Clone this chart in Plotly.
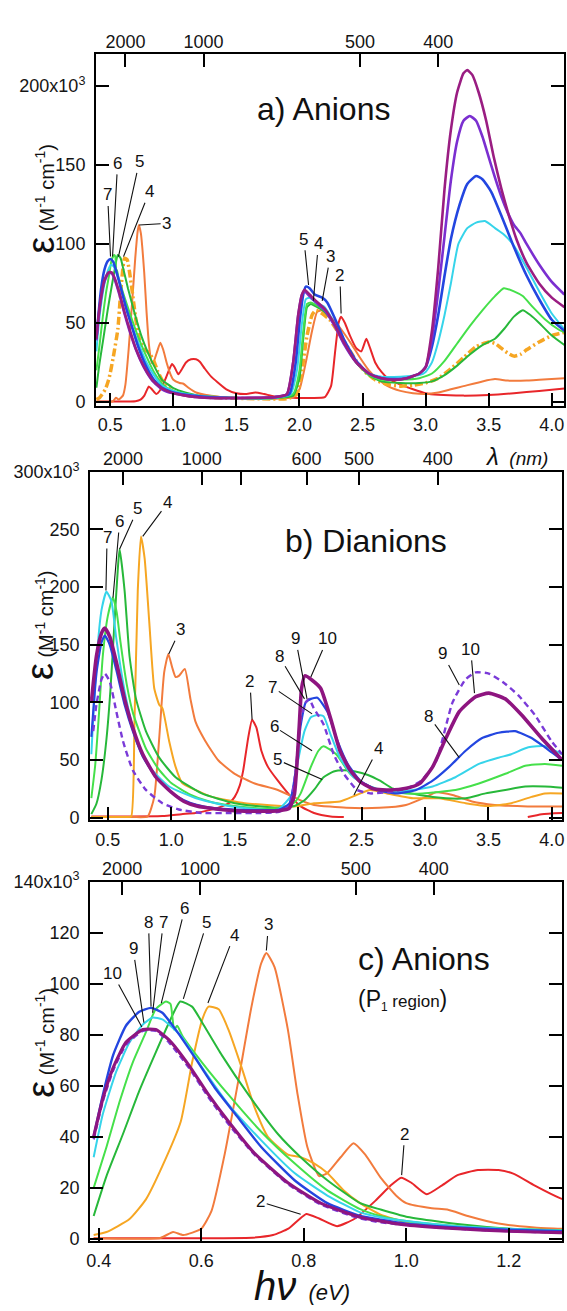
import plotly.graph_objects as go

W, H = 567, 1311
FONT = "Liberation Sans, Arial, Helvetica, sans-serif"

# ---------------- colours per chain length ----------------
C2, C3, C4 = "#e8262a", "#f27b3d", "#f6a623"
C5, C6, C7 = "#27b83a", "#45e04a", "#36d4ea"
C8, C9, C10 = "#2346e0", "#7b2fd0", "#9a1d82"

# ---------------- anion spectra (eV, eps in 10^3 M^-1 cm^-1) ----------------
A2_E = [0.39, 0.55, 0.70, 0.74, 0.77, 0.79, 0.805, 0.83, 0.865, 0.90, 0.94, 0.97, 0.99, 1.01, 1.04, 1.07, 1.10,
        1.14, 1.18, 1.21, 1.25, 1.30, 1.35, 1.42, 1.50, 1.58, 1.65, 1.72, 1.80, 1.90, 2.00, 2.10, 2.20, 2.25,
        2.28, 2.31, 2.33, 2.36, 2.40, 2.45, 2.49, 2.53, 2.56, 2.60, 2.65, 2.70, 2.80, 2.90, 3.00, 3.10, 3.30,
        3.50, 3.70, 3.90, 4.10]
A2_Y = [0.3, 0.3, 0.5, 1.5, 4, 7.5, 9.8, 8, 5, 8, 15, 21, 24, 22, 17.5, 21, 25,
        27, 27, 25.5, 21, 16, 12.5, 8, 5.5, 5, 6, 5, 3.5, 3, 2.5, 2.5, 3, 10,
        30, 50, 54, 50, 42, 34, 32, 40, 34, 25, 19, 15, 11, 8, 5.5, 4.5, 4,
        4.4, 5.5, 7, 8.5]

A3_E = [0.39, 0.52, 0.545, 0.565, 0.60, 0.62, 0.646, 0.672, 0.698, 0.717, 0.727, 0.743, 0.769, 0.788, 0.807,
        0.83, 0.846, 0.872, 0.897, 0.92, 0.95, 0.98, 1.00, 1.05, 1.08, 1.12, 1.18, 1.25, 1.30, 1.40, 1.60,
        1.80, 1.95, 2.00, 2.05, 2.10, 2.14, 2.18, 2.22, 2.27, 2.33, 2.40, 2.48, 2.55, 2.60, 2.70, 2.80, 2.90,
        3.00, 3.10, 3.20, 3.30, 3.45, 3.55, 3.65, 3.80, 4.00, 4.10]
A3_Y = [0.3, 0.4, 2.7, 1.5, 4, 11, 33.5, 61.6, 91, 108, 112, 106.5, 82, 56.5, 36,
        24.6, 25.8, 32, 37.5, 33, 24, 17, 14, 12, 11.5, 9, 6, 4.5, 4, 3, 2,
        2, 3, 8, 25, 45, 57, 58, 55, 52, 46, 38, 28, 20, 16, 10, 7, 5.5,
        5, 6, 8, 10, 13, 14.5, 13.5, 13.5, 14.5, 15]

A4_E = [0.39, 0.415, 0.46, 0.492, 0.524, 0.56, 0.582, 0.602, 0.614, 0.634, 0.653, 0.679, 0.704, 0.73, 0.769,
        0.794, 0.82, 0.846, 0.878, 0.91, 0.95, 1.00, 1.10, 1.20, 1.30, 1.40, 1.70, 1.90, 1.98, 2.02, 2.06,
        2.10, 2.13, 2.18, 2.24, 2.30, 2.38, 2.45, 2.52, 2.60, 2.70, 2.80, 2.90, 3.00, 3.10, 3.20, 3.30, 3.40,
        3.50, 3.55, 3.60, 3.65, 3.70, 3.75, 3.80, 3.90, 4.00, 4.10]
A4_Y = [1.5, 2.7, 7.8, 15.5, 28.5, 46, 69, 86, 91, 90, 82, 67, 51.5, 40, 33,
        32, 29.6, 25.8, 19, 14, 9.5, 6.5, 4.2, 3.3, 2.8, 2.5, 2, 2, 5, 20, 42,
        55, 58, 56, 52, 45, 35, 26, 19, 14, 11, 10, 10.5, 12, 15, 21, 28, 35,
        38, 37, 34, 31, 29, 30, 33, 38, 42, 44]

A5_E = [0.39, 0.415, 0.447, 0.479, 0.511, 0.537, 0.559, 0.582, 0.602, 0.64, 0.692, 0.75, 0.794, 0.846, 0.91,
        0.95, 1.00, 1.10, 1.20, 1.30, 1.50, 1.80, 1.95, 2.00, 2.03, 2.06, 2.09, 2.14, 2.20, 2.27, 2.35, 2.45,
        2.55, 2.65, 2.80, 2.95, 3.05, 3.15, 3.25, 3.35, 3.45, 3.55, 3.62, 3.70, 3.77, 3.83, 3.90, 4.00, 4.10]
A5_Y = [9, 24.6, 41, 58, 73, 84.7, 93, 91, 84.7, 72, 56.5, 41, 32, 23, 14,
        11.5, 8.7, 5.8, 4, 3.2, 2.5, 2.5, 4, 15, 40, 60, 62, 60, 57, 50, 38, 25,
        17, 13, 12, 12, 13, 17, 23, 30, 36, 40, 46, 54, 58, 55, 50, 42, 36]

A6_E = [0.39, 0.415, 0.441, 0.466, 0.492, 0.511, 0.531, 0.54, 0.547, 0.553, 0.563, 0.602, 0.653, 0.717, 0.782,
        0.846, 0.91, 0.95, 1.00, 1.10, 1.20, 1.30, 1.50, 1.80, 1.95, 2.00, 2.03, 2.06, 2.09, 2.14, 2.20, 2.27,
        2.35, 2.45, 2.55, 2.65, 2.80, 2.95, 3.05, 3.15, 3.25, 3.35, 3.45, 3.55, 3.62, 3.70, 3.77, 3.85, 3.95,
        4.05, 4.10]
A6_Y = [20, 36, 54, 69, 81, 90, 93, 92, 82, 83.5, 79.6, 69, 56.5, 42, 29.6,
        19, 11.7, 9, 7, 5, 4, 3.4, 2.5, 2.5, 5, 20, 45, 62, 63, 61, 58, 50,
        38, 25, 17, 14, 14, 15, 18, 26, 37, 48, 58, 67, 72, 70, 67, 60, 52,
        46, 44]

A7_E = [0.39, 0.408, 0.434, 0.46, 0.486, 0.505, 0.524, 0.56, 0.602, 0.653, 0.717, 0.782, 0.846, 0.91, 0.95,
        1.00, 1.10, 1.20, 1.30, 1.50, 1.80, 1.93, 1.98, 2.02, 2.05, 2.08, 2.13, 2.20, 2.27, 2.35, 2.45, 2.55,
        2.65, 2.80, 2.95, 3.00, 3.05, 3.10, 3.15, 3.20, 3.26, 3.33, 3.40, 3.47, 3.55, 3.62, 3.69, 3.80, 3.90,
        4.00, 4.10]
A7_Y = [32, 49, 65.5, 77, 84, 86.7, 86, 79.6, 67, 52.7, 38.6, 25.8, 17, 10.4, 8.5,
        7, 5, 4, 3.3, 2.5, 2.5, 5, 20, 50, 65, 66, 63, 60, 51, 38, 25, 18,
        16, 16, 17, 19, 25, 38, 55, 75, 100, 110, 113.5, 114.5, 110, 106, 100, 85, 70,
        56, 46]

A8_E = [0.39, 0.408, 0.428, 0.453, 0.479, 0.502, 0.524, 0.55, 0.589, 0.627, 0.666, 0.717, 0.782, 0.846, 0.91,
        0.95, 1.00, 1.10, 1.20, 1.30, 1.50, 1.80, 1.92, 1.97, 2.00, 2.03, 2.05, 2.08, 2.12, 2.18, 2.22, 2.28,
        2.35, 2.45, 2.55, 2.65, 2.75, 2.85, 2.95, 3.00, 3.05, 3.10, 3.15, 3.20, 3.27, 3.33, 3.40, 3.45, 3.52,
        3.60, 3.70, 3.80, 3.90, 4.00, 4.10]
A8_Y = [40, 56.5, 72, 83.5, 89, 90.5, 88.6, 82, 70.6, 59, 49, 36, 23, 14, 9,
        7.5, 6, 4.5, 3.6, 3, 2.5, 3, 5, 25, 50, 68, 73, 72, 68, 66, 63, 53,
        40, 26, 18, 15, 14.5, 15, 18, 22, 35, 55, 80, 103, 125, 138, 143, 141, 133,
        118, 98, 80, 65, 52, 45]

A9_E = [0.39, 0.408, 0.428, 0.453, 0.486, 0.511, 0.537, 0.576, 0.614, 0.653, 0.704, 0.769, 0.833, 0.91, 0.95,
        1.00, 1.10, 1.20, 1.30, 1.50, 1.80, 1.90, 1.95, 1.99, 2.02, 2.04, 2.08, 2.13, 2.20, 2.28, 2.35, 2.45,
        2.55, 2.65, 2.75, 2.85, 2.95, 3.00, 3.05, 3.10, 3.15, 3.20, 3.25, 3.30, 3.35, 3.40, 3.45, 3.50, 3.55,
        3.60, 3.65, 3.70, 3.75, 3.80, 3.90, 4.00, 4.10]
A9_Y = [39, 54, 66, 76, 81.5, 81.5, 77, 67, 55.5, 45, 33, 21.5, 13.5, 8, 6.5,
        5.5, 4, 3, 2.5, 2.5, 3, 5, 25, 55, 68, 70, 67, 63, 58, 48, 37, 25,
        18, 15, 14, 15, 18, 22, 40, 70, 105, 140, 165, 178, 181, 178, 168, 155, 142,
        130, 120, 112, 107, 100, 87, 76, 68]

A10_E = [0.39, 0.408, 0.428, 0.453, 0.486, 0.511, 0.537, 0.576, 0.614, 0.653, 0.704, 0.769, 0.833, 0.91, 0.95,
         1.00, 1.10, 1.20, 1.30, 1.50, 1.80, 1.90, 1.95, 1.99, 2.02, 2.04, 2.08, 2.13, 2.20, 2.28, 2.35, 2.45,
         2.55, 2.65, 2.75, 2.85, 2.95, 3.00, 3.05, 3.10, 3.15, 3.20, 3.25, 3.30, 3.33, 3.37, 3.42, 3.48, 3.54,
         3.60, 3.66, 3.72, 3.80, 3.90, 4.00, 4.10]
A10_Y = [40, 55, 67, 77, 82, 82, 78, 68, 56.5, 46, 33.5, 22, 14, 8.5, 7,
         5.5, 4, 3, 2.5, 2.5, 3, 5, 25, 55, 68, 71, 68, 64, 59, 49, 38, 25,
         18, 15, 14, 15, 18, 22, 45, 85, 135, 172, 196, 208, 210, 207, 196, 178, 155,
         135, 118, 103, 88, 75, 66, 60]

# ---------------- dianion spectra ----------------
D2_E = [0.37, 0.6, 0.93, 1.08, 1.19, 1.30, 1.40, 1.46, 1.50, 1.54, 1.567, 1.606, 1.637, 1.671, 1.71, 1.762,
        1.84, 1.944, 2.02, 2.125, 2.256, 2.36, None, 3.81, 3.92, 4.08]
D2_Y = [1, 1, 1.4, 3, 4, 6.5, 9.7, 13, 18, 28, 41, 69, 85, 78, 58, 44,
        32, 18, 9.7, 4, 1, 0.5, None, 0.5, 3, 4]

D3_E = [0.37, 0.70, 0.814, 0.866, 0.905, 0.944, 0.977, 1.008, 1.034, 1.06, 1.107, 1.151, 1.19, 1.268, 1.372,
        1.50, 1.658, 1.84, 2.02, 2.125, 2.38, 2.64, 2.85, 3.01, 3.087, 3.217, 3.37, 3.55, 3.81, 4.08]
D3_Y = [0.5, 0.5, 1, 18, 69, 126, 142, 130, 122, 123, 129, 103, 83.5, 66.5, 49.5,
        38, 29.6, 24, 15, 11, 8.5, 8.5, 11, 18, 22, 19.6, 14, 11, 9.7, 9.7]

D4_E = [0.37, 0.65, 0.684, 0.71, 0.736, 0.761, 0.79, 0.827, 0.866, 0.905, 0.93, 0.983, 1.034, 1.086, 1.19,
        1.32, 1.58, 1.97, 2.125, 2.33, 2.46, 2.567, 2.70, 2.905, 3.11, 3.32, 3.50, 3.68, 3.84, 3.945, 4.08]
D4_Y = [0.5, 0.5, 1, 83, 197, 244, 225, 169, 112, 98, 95, 66.5, 44, 30, 24,
        18, 12.5, 9.7, 12.5, 14, 19.6, 24, 21, 16.8, 16.8, 12.5, 10, 12.5, 18, 21, 21]

D5_E = [0.37, 0.41, 0.45, 0.489, 0.52, 0.55, 0.58, 0.593, 0.632, 0.671, 0.722, 0.80, 0.905, 1.034, 1.24,
        1.5, 1.84, 1.97, 2.05, 2.125, 2.20, 2.28, 2.36, 2.45, 2.55, 2.645, 2.75, 2.957, 3.165, 3.32, 3.477,
        3.633, 3.79, 3.945, 4.08]
D5_Y = [3, 12, 33, 68, 110, 165, 218, 233, 197, 140, 103, 75, 52, 35, 21,
        12.5, 8.5, 10, 15, 24, 35, 40, 41, 40, 37, 32, 25, 19.6, 16.8, 16.8, 21,
        24, 27, 27, 26]

D6_E = [0.37, 0.40, 0.43, 0.46, 0.50, 0.54, 0.57, 0.60, 0.65, 0.70, 0.80, 0.90, 1.00, 1.15, 1.30,
        1.50, 1.70, 1.90, 1.97, 2.02, 2.10, 2.16, 2.20, 2.30, 2.41, 2.51, 2.64, 2.85, 2.98, 3.24, 3.425,
        3.633, 3.79, 3.945, 4.08]
D6_Y = [17, 45, 90, 140, 175, 191, 178, 152, 115, 90, 60, 42, 30, 20, 14,
        10, 8, 9, 13, 21, 44, 58, 62, 55, 38, 29.6, 24, 21, 21, 24, 29.6,
        38, 45, 46.6, 45]

D7_E = [0.37, 0.41, 0.45, 0.489, 0.528, 0.567, 0.632, 0.722, 0.827, 0.983, 1.19, 1.45, 1.84, 1.95, 2.00,
        2.05, 2.10, 2.15, 2.20, 2.256, 2.33, 2.437, 2.567, 2.723, 2.905, 3.06, 3.24, 3.425, 3.58, 3.68, 3.814,
        3.945, 4.08]
D7_Y = [55, 135, 180, 196, 188, 155, 110, 67, 44, 27, 17, 10, 7, 20, 50,
        75, 87, 89, 88, 72, 52, 35, 27, 22, 24, 27, 35, 46.6, 52, 55, 61,
        62, 55]

D8_E = [0.37, 0.41, 0.45, 0.476, 0.515, 0.567, 0.632, 0.697, 0.775, 0.88, 1.00, 1.10, 1.20, 1.35, 1.50,
        1.70, 1.85, 1.93, 1.98, 2.02, 2.06, 2.10, 2.152, 2.23, 2.31, 2.39, 2.49, 2.62, 2.775, 2.93, 3.06,
        3.19, 3.32, 3.45, 3.58, 3.71, 3.84, 3.945, 4.08]
D8_Y = [70, 125, 152, 158, 150, 128, 98, 75, 53, 35, 22, 15, 11, 8, 7,
        6.5, 7, 12, 40, 80, 100, 103, 104, 92, 66.5, 46.6, 32, 24, 21, 24, 32,
        44, 58, 69, 73.6, 75, 69, 61, 50]

D9_E = [0.385, 0.41, 0.45, 0.476, 0.515, 0.567, 0.619, 0.697, 0.80, 0.93, 1.06, 1.24, 1.5, 1.7, 1.85,
        1.93, 1.98, 2.02, 2.06, 2.087, 2.123, 2.2, 2.28, 2.36, 2.464, 2.567, 2.7, 2.85, 2.97, 3.087, 3.217,
        3.32, 3.40, 3.503, 3.633, 3.736, 3.866, 3.996, 4.08]
D9_Y = [75, 98, 120, 125, 118, 92, 66.5, 41, 24, 12.5, 7, 4, 4, 4, 5,
        10, 40, 85, 100, 103, 95, 81, 55, 38, 24, 21, 22, 25, 32, 49, 100,
        120, 126, 125, 116, 106, 89, 66.5, 55]

D10_E = [0.37, 0.41, 0.45, 0.476, 0.515, 0.567, 0.632, 0.697, 0.775, 0.88, 1.00, 1.10, 1.20, 1.35, 1.50,
         1.70, 1.85, 1.93, 1.97, 2.008, 2.027, 2.053, 2.113, 2.178, 2.256, 2.33, 2.41, 2.49, 2.593, 2.723, 2.853,
         2.957, 3.06, 3.165, 3.27, 3.40, 3.503, 3.633, 3.762, 3.918, 4.08]
D10_Y = [100, 140, 160, 164.5, 157, 135, 103, 78, 55, 35, 22, 14, 10, 7.5, 6,
         5.5, 6, 8, 20, 78, 112, 123, 119, 112, 86, 58, 41, 31, 25, 24, 25.5,
         29.5, 44, 69, 92, 105, 108, 103, 89, 69, 50]

# ---------------- axis tick labels ----------------
EV_TICKS_AB = [0.5, 1.0, 1.5, 2.0, 2.5, 3.0, 3.5, 4.0]
EV_TICKS_C = [0.4, 0.6, 0.8, 1.0, 1.2]
WL_TICKS_A = [2000, 1000, 500, 400]
WL_LABELS_A = ["2000", "1000", "500", "400"]
WL_TICKS_B = [2000, 1000, 800, 600, 500, 400]
WL_LABELS_B = ["2000", "1000", "", "600", "500", "400"]
Y_TICKS_A = [0, 50, 100, 150, 200]
Y_TICKS_B = [0, 50, 100, 150, 200, 250, 300]
Y_TICKS_C = [0, 20, 40, 60, 80, 100, 120, 140]

# ---------------- curve labels (text position -> pointed position) ----------------
LA_T = ["7", "6", "5", "4", "3", "5", "4", "3", "2"]
LA_TX = [0.479, 0.558, 0.73, 0.81, 0.947, 2.035, 2.15, 2.244, 2.32]
LA_TY = [131, 151, 152, 133, 113, 103, 100, 92, 80]
LA_PX = [0.502, 0.518, 0.565, 0.605, 0.73, 2.072, 2.11, 2.18, 2.33]
LA_PY = [92, 92, 92, 92, 112, 74, 64, 64, 56]

LB_T = ["7", "6", "5", "4", "3", "2", "8", "9", "10", "7", "6", "5", "4", "9", "10", "8"]
LB_TX = [0.494, 0.593, 0.736, 0.97, 1.07, 1.62, 1.85, 1.98, 2.23, 1.80, 1.81, 1.84, 2.63, 3.14, 3.36, 3.03]
LB_TY = [243, 257, 268, 273, 163, 118, 140, 155, 155, 113, 79, 50, 60, 142, 146, 88]
LB_PX = [0.485, 0.541, 0.593, 0.775, 0.98, 1.637, 2.05, 2.07, 2.10, 2.11, 2.11, 2.19, 2.44, 3.27, 3.39, 3.27]
LB_PY = [197, 191, 233, 244, 142, 85, 103, 103, 122, 90, 58, 33, 19.6, 115, 108, 52]

LC_T = ["10", "9", "8", "7", "6", "5", "4", "3", "2", "2"]
LC_TX = [0.427, 0.467, 0.497, 0.526, 0.568, 0.611, 0.664, 0.731, 0.997, 0.716]
LC_TY = [104, 113.6, 124, 124, 129.5, 124, 119, 123, 41, 14.5]
LC_PX = [0.484, 0.488, 0.502, 0.505, 0.522, 0.565, 0.613, 0.727, 0.991, 0.794]
LC_PY = [83, 84.7, 91, 88.6, 92.4, 94, 92.4, 113, 25, 9.7]

HC = 1239.84  # eV nm

fig = go.Figure()


def add(E, Y, xa, ya, color, width, dash="solid"):
    fig.add_trace(go.Scatter(x=E, y=Y, xaxis=xa, yaxis=ya, mode="lines",
                             line=dict(color=color, width=width, dash=dash, shape="spline", smoothing=0.5),
                             showlegend=False, hoverinfo="skip"))


anions = [(A2_E, A2_Y, C2), (A3_E, A3_Y, C3), (A4_E, A4_Y, C4), (A5_E, A5_Y, C5), (A6_E, A6_Y, C6),
          (A7_E, A7_Y, C7), (A8_E, A8_Y, C8), (A9_E, A9_Y, C9), (A10_E, A10_Y, C10)]

# panel a
for i, (E, Y, c) in enumerate(anions):
    n = i + 2
    if n == 4:
        add(E, Y, "x", "y", c, 3.5, "8px,3px,2px,3px")
    else:
        add(E, Y, "x", "y", c, 2.6 if n >= 8 else 2)

# panel b
dianions = [(D2_E, D2_Y, C2, 2, "solid"), (D3_E, D3_Y, C3, 2, "solid"), (D4_E, D4_Y, C4, 2, "solid"),
            (D5_E, D5_Y, C5, 2, "solid"), (D6_E, D6_Y, C6, 2, "solid"), (D7_E, D7_Y, C7, 2, "solid"),
            (D8_E, D8_Y, C8, 2.2, "solid"), (D9_E, D9_Y, "#7a3ad8", 2.4, "6px,4px"),
            (D10_E, D10_Y, "#8e1580", 3.6, "solid")]
for E, Y, c, w, d in dianions:
    add(E, Y, "x2", "y2", c, w, d)

# panel c
for i, (E, Y, c) in enumerate(anions):
    n = i + 2
    if n == 9:
        add(E, Y, "x3", "y3", "#7a3ad8", 2.4, "6px,4px")
    elif n == 10:
        add(E, Y, "x3", "y3", "#8e1580", 3.2)
    else:
        add(E, Y, "x3", "y3", c, 2.4 if n == 8 else 2)

# empty traces for the top (wavelength) axes
for xa, ya in [("x4", "y"), ("x5", "y2"), ("x6", "y3")]:
    fig.add_trace(go.Scatter(x=[], y=[], xaxis=xa, yaxis=ya, showlegend=False, hoverinfo="skip"))

TICKFONT = dict(family=FONT, size=18, color="#151515")


def xax(rng, vals, texts, anchor, domain=None, side="bottom", overlaying=None):
    d = dict(range=rng, tickmode="array", tickvals=vals, ticktext=texts, ticks="inside", ticklen=13,
             tickwidth=2, tickcolor="black", showgrid=False, zeroline=False, anchor=anchor, side=side,
             tickfont=TICKFONT, ticklabelstandoff=2)
    if overlaying:
        d.update(overlaying=overlaying, showline=False)
    else:
        d.update(domain=domain, showline=True, linewidth=2, linecolor="black", mirror=True)
    return d


def yax(rng, vals, domain, anchor):
    texts = [str(v) for v in vals[:-1]] + [f"{vals[-1]}x10<sup>3</sup>"]
    return dict(range=rng, domain=domain, tickmode="array", tickvals=vals, ticktext=texts, ticks="inside",
                ticklen=13, tickwidth=2, tickcolor="black", showgrid=False, zeroline=False, anchor=anchor,
                showline=True, linewidth=2, linecolor="black", mirror="ticks", tickfont=TICKFONT,
                ticklabelstandoff=5)


def px_x(p):
    return p / W


def px_y(p):
    return 1 - p / H


dom_xa = [px_x(93), px_x(566)]
dom_xb = [px_x(87), px_x(564)]
dom_ya = [px_y(400), px_y(43)]
dom_yb = [px_y(821), px_y(467)]
dom_yc = [px_y(1248), px_y(883)]

fmt = lambda v: f"{v:.1f}"
fig.update_layout(
    width=W, height=H, margin=dict(l=0, r=0, t=0, b=0),
    paper_bgcolor="white", plot_bgcolor="white",
    font=dict(family=FONT, color="#151515"),
    xaxis=xax([0.387, 4.097], EV_TICKS_AB, [fmt(v) for v in EV_TICKS_AB], "y", dom_xa),
    yaxis=yax([-2.5, 220], Y_TICKS_A, dom_ya, "x"),
    xaxis2=xax([0.36, 4.08], EV_TICKS_AB, [fmt(v) for v in EV_TICKS_AB], "y2", dom_xb),
    yaxis2=yax([-2.5, 300], Y_TICKS_B, dom_yb, "x2"),
    xaxis3=xax([0.383, 1.304], EV_TICKS_C, [fmt(v) for v in EV_TICKS_C], "y3", dom_xb),
    yaxis3=yax([-0.8, 140], Y_TICKS_C, dom_yc, "x3"),
    xaxis4=xax([0.387, 4.097], [HC / l for l in WL_TICKS_A], WL_LABELS_A, "y", side="top", overlaying="x"),
    xaxis5=xax([0.36, 4.08], [HC / l for l in WL_TICKS_B], WL_LABELS_B, "y2", side="top", overlaying="x2"),
    xaxis6=xax([0.365, 4.12], [HC / l for l in WL_TICKS_A], WL_LABELS_A, "y3", side="top", overlaying="x3"),
)

ann = []
for T, TX, TY, PX, PY, xr, yr in [(LA_T, LA_TX, LA_TY, LA_PX, LA_PY, "x", "y"),
                                  (LB_T, LB_TX, LB_TY, LB_PX, LB_PY, "x2", "y2"),
                                  (LC_T, LC_TX, LC_TY, LC_PX, LC_PY, "x3", "y3")]:
    for t, tx, ty, px, py in zip(T, TX, TY, PX, PY):
        ann.append(dict(text=t, x=px, y=py, xref=xr, yref=yr, ax=tx, ay=ty, axref=xr, ayref=yr,
                        showarrow=True, arrowhead=0, arrowwidth=1.1, arrowcolor="#111", standoff=0,
                        font=dict(family=FONT, size=17, color="#111")))

YT = ('<span style="font-size:38px">ε</span>'
      '<span style="font-size:20px"> (M<sup>-1</sup> cm<sup>-1</sup>)</span>')
for yc in [190, 623, 1047]:
    ann.append(dict(text=YT, x=px_x(37), y=px_y(yc), xref="paper", yref="paper", textangle=-90,
                    showarrow=False, xanchor="center", yanchor="middle", font=dict(family=FONT, color="#111")))


def label(text, xp, yp, size, xanchor="center"):
    ann.append(dict(text=text, x=px_x(xp), y=px_y(yp), xref="paper", yref="paper", showarrow=False,
                    xanchor=xanchor, yanchor="middle", font=dict(family=FONT, size=size, color="#111")))


label("a) Anions", 323, 99, 32)
label("b) Dianions", 366, 537, 32)
label("c) Anions", 356, 962, 32, "left")
label('(P<span style="font-size:17px"><sub>1</sub> region</span>)', 356, 1003, 23, "left")
label('<i><span style="font-size:24px">λ</span>  (nm)</i>', 484, 451, 19, "left")
label('<i><span style="font-size:40px">hν</span>  (eV)</i>', 301, 1294, 22)

fig.update_layout(annotations=ann)
fig.write_html("out.html")
